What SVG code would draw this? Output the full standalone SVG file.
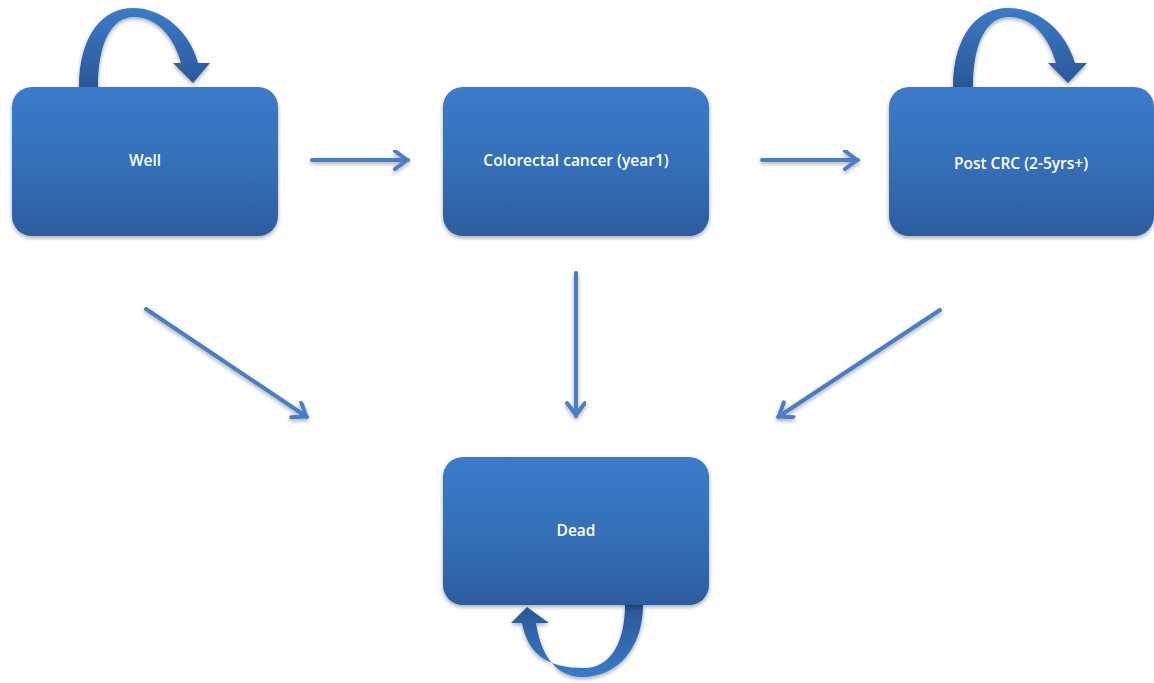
<svg xmlns="http://www.w3.org/2000/svg" width="1154" height="683" viewBox="0 0 1154 683">
<defs>
<linearGradient id="boxg" x1="0" y1="0" x2="0" y2="1">
<stop offset="0" stop-color="#3b7bca"/>
<stop offset="0.5" stop-color="#3570b9"/>
<stop offset="1" stop-color="#2c5d9e"/>
</linearGradient>
<linearGradient id="loopg" x1="0" y1="1" x2="0" y2="0">
<stop offset="0" stop-color="#2a5795"/>
<stop offset="1" stop-color="#3b7bc8"/>
</linearGradient>
<linearGradient id="loopd" x1="0" y1="0" x2="0" y2="1">
<stop offset="0" stop-color="#2a5795"/>
<stop offset="1" stop-color="#3b7bc8"/>
</linearGradient>
<filter id="sh" filterUnits="userSpaceOnUse" x="0" y="0" width="1154" height="683">
<feGaussianBlur in="SourceAlpha" stdDeviation="2"/>
<feOffset dx="0" dy="2" result="b"/>
<feComponentTransfer><feFuncA type="linear" slope="0.35"/></feComponentTransfer>
<feMerge><feMergeNode/><feMergeNode in="SourceGraphic"/></feMerge>
</filter>
<marker id="ah" markerUnits="userSpaceOnUse" markerWidth="30" markerHeight="30" refX="17" refY="10" orient="auto">
<polyline points="4,1 16,10 4,19" fill="none" stroke="#4a7ec4" stroke-width="4" stroke-linecap="round" stroke-linejoin="round"/>
</marker>
<style>
.box{fill:url(#boxg);filter:url(#sh);}
.lbl{font-family:"Open Sans","Liberation Sans",sans-serif;font-size:15.5px;font-weight:600;fill:#ffffff;text-anchor:middle;}
.con{stroke:#4a7ec4;stroke-width:4;fill:none;stroke-linecap:round;marker-end:url(#ah);}
.loop{fill:url(#loopg);filter:url(#sh);}
.loopd{fill:url(#loopd);filter:url(#sh);}
</style>
</defs>
<rect width="1154" height="683" fill="#ffffff"/>
<g id="connectors" filter="url(#sh)">
<line class="con" x1="312" y1="160" x2="408" y2="160"/>
<line class="con" x1="762" y1="160" x2="858" y2="160"/>
<line class="con" x1="576" y1="273" x2="576" y2="416"/>
<line class="con" x1="146" y1="309" x2="307" y2="417"/>
<line class="con" x1="940" y1="310" x2="778" y2="417"/>
</g>
<g id="loop-well">
<path class="loop" d="M79,87 C79,35 103,8 133,8 C163,8 190,32 198,63 L210,63 L193,83 L173,63 L181,63 C174,38 158,17 134,17 C112,17 98,42 98,87 Z"/>
</g>
<g id="loop-post">
<path class="loop" d="M953,87 C953,35 978,8 1008,8 C1040,8 1066,32 1075,63 L1087,63 L1068,83 L1048,63 L1056,63 C1049,38 1033,17 1009,17 C987,17 973,42 973,87 Z"/>
</g>
<g id="loop-dead">
<path class="loopd" d="M643,605 C643,645 620,677 582,677 C553,677 540,650 536,623 L549,623 L527,607 L511,623 L522,623 C528,655 548,668 584,668 C612,668 625,640 625,605 Z"/>
</g>
<g id="node-well">
<rect class="box" x="12" y="87" width="266" height="149" rx="20"/>
<text class="lbl" x="145" y="166">Well</text>
</g>
<g id="node-crc">
<rect class="box" x="443" y="87" width="266" height="149" rx="20"/>
<text class="lbl" x="576" y="166">Colorectal cancer (year1)</text>
</g>
<g id="node-post">
<rect class="box" x="889" y="87" width="265" height="149" rx="20"/>
<text class="lbl" x="1021" y="169">Post CRC (2-5yrs+)</text>
</g>
<g id="node-dead">
<rect class="box" x="443" y="457" width="266" height="148" rx="20"/>
<text class="lbl" x="576" y="536">Dead</text>
</g>
</svg>
